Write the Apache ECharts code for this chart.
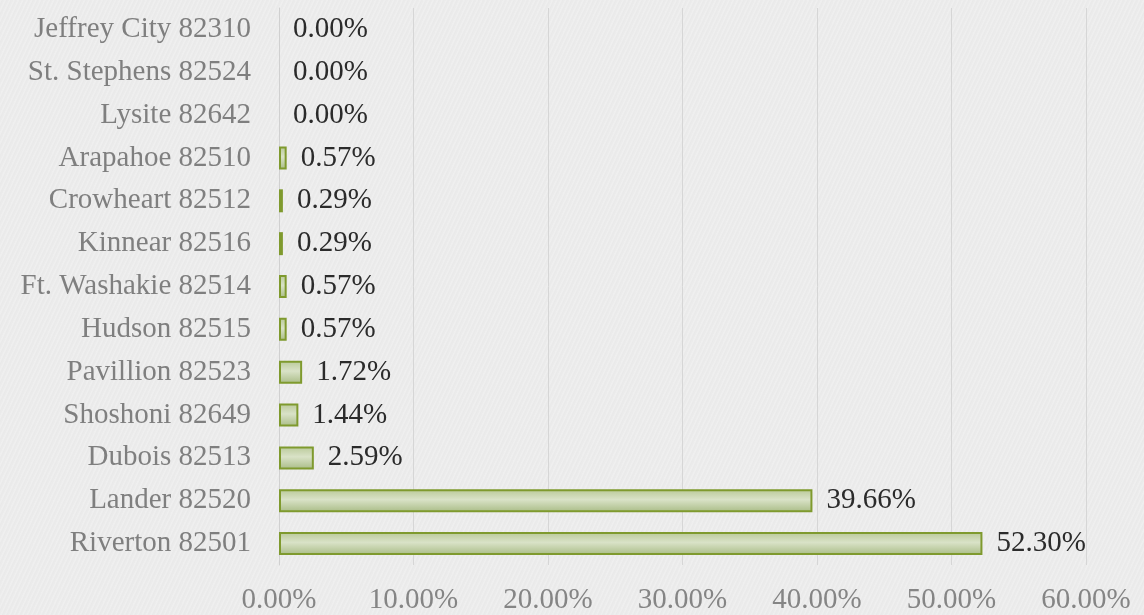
<!DOCTYPE html>
<html>
<head>
<meta charset="utf-8">
<script src="https://cdn.jsdelivr.net/npm/echarts@6/dist/echarts.min.js"></script>
<style>
  html, body { margin: 0; padding: 0; }
  body {
    width: 1144px; height: 615px;
    background-color: #ececec;
    background-image: repeating-linear-gradient(115deg, rgba(255,255,255,0.14) 0px, rgba(255,255,255,0.14) 1px, rgba(0,0,0,0.012) 2px, rgba(0,0,0,0) 4px);
  }
  #chart { width: 1144px; height: 615px; }
</style>
</head>
<body>
<div id="chart"></div>
<script>
// Fremont County ZIP codes, share of responses (percent), listed bottom to top
const categories = [
  'Riverton 82501', 'Lander 82520', 'Dubois 82513', 'Shoshoni 82649',
  'Pavillion 82523', 'Hudson 82515', 'Ft. Washakie 82514', 'Kinnear 82516',
  'Crowheart 82512', 'Arapahoe 82510', 'Lysite 82642', 'St. Stephens 82524',
  'Jeffrey City 82310'
];
const shares = [52.30, 39.66, 2.59, 1.44, 1.72, 0.57, 0.57, 0.29, 0.29, 0.57, 0.00, 0.00, 0.00];
const axisMax = 60;
const axisStep = 10;

const serif = '"Liberation Serif", "DejaVu Serif", serif';
const chart = echarts.init(document.getElementById('chart'), null, { renderer: 'canvas' });

// zero-valued bars get no outline so nothing is drawn for them
const barData = shares.map(v => v === 0 ? { value: v, itemStyle: { borderWidth: 0 } } : v);

chart.setOption({
  animation: false,
  backgroundColor: 'transparent',
  grid: { left: 279, right: 58, top: 8, bottom: 46, containLabel: false },
  xAxis: {
    type: 'value',
    min: 0, max: axisMax, interval: axisStep,
    axisLine: { show: false },
    axisTick: { show: false },
    splitLine: { show: true, lineStyle: { color: '#d6d6d6', width: 1 } },
    axisLabel: {
      formatter: v => v.toFixed(2) + '%',
      color: '#858585', fontFamily: serif, fontSize: 29, margin: 21
    }
  },
  yAxis: {
    type: 'category',
    data: categories,
    axisLine: { show: true, lineStyle: { color: '#d0d0d0', width: 1 } },
    axisTick: { show: false },
    axisLabel: { color: '#7f7f7f', fontFamily: serif, fontSize: 29, margin: 28 }
  },
  series: [{
    type: 'bar',
    data: barData,
    barWidth: 23,
    itemStyle: {
      color: new echarts.graphic.LinearGradient(0, 0, 0, 1, [
        { offset: 0, color: '#b9c998' },
        { offset: 0.45, color: '#d9e2c7' },
        { offset: 1, color: '#a9bc86' }
      ]),
      borderColor: '#7f9a2e',
      borderWidth: 2
    },
    label: {
      show: true,
      position: 'right',
      distance: 14,
      formatter: p => p.value.toFixed(2) + '%',
      color: '#2b2b2b', fontFamily: serif, fontSize: 29
    }
  }]
});
</script>
</body>
</html>
